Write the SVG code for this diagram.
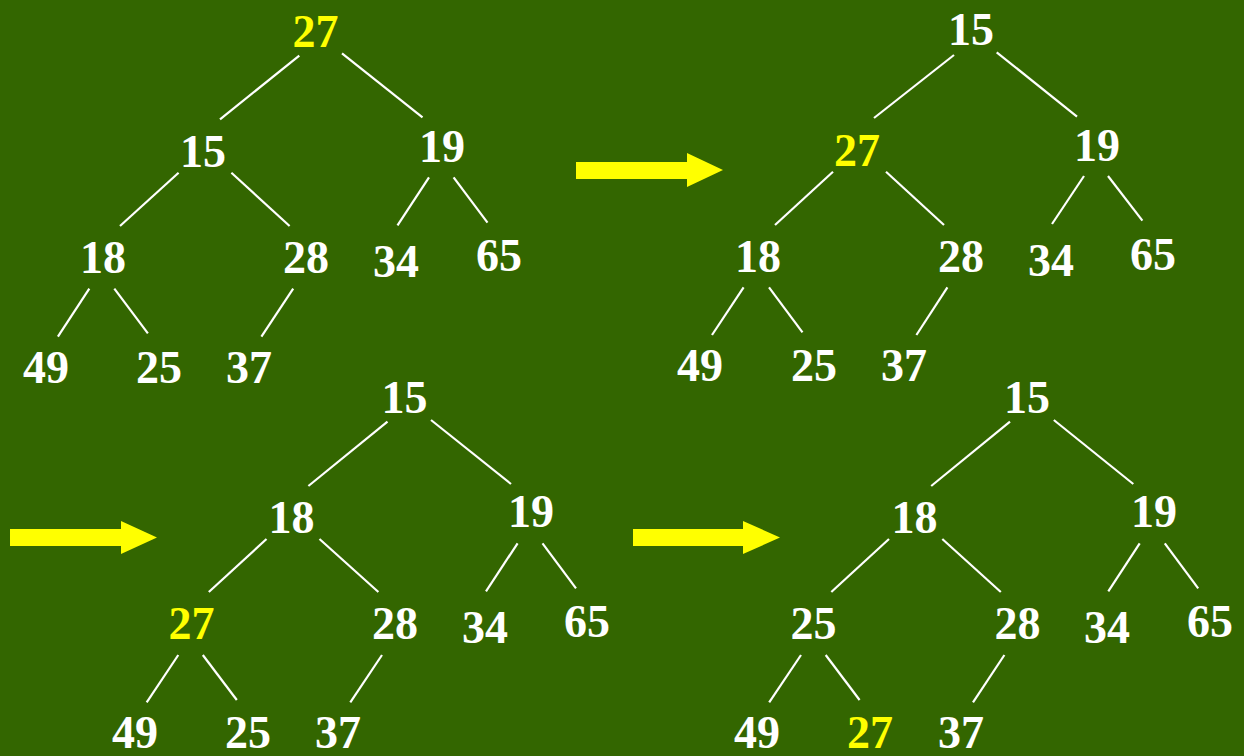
<svg xmlns="http://www.w3.org/2000/svg" width="1244" height="756" viewBox="0 0 1244 756">
<style>
text{font-family:"Liberation Serif","Times New Roman",serif;font-weight:bold;font-size:46px;text-anchor:middle;fill:#ffffff}
text.hl{fill:#ffff00}
#connectors line{stroke:#ffffff;stroke-width:2.2}
.arrow{fill:#ffff00}
</style>
<rect width="1244" height="756" fill="#336600"/>
<g id="connectors">
<line x1="299.3" y1="55.7" x2="220" y2="119.3"/>
<line x1="342" y1="53.3" x2="422.5" y2="117.3"/>
<line x1="178.6" y1="172.7" x2="120" y2="226"/>
<line x1="231.4" y1="172.7" x2="289.6" y2="226"/>
<line x1="429" y1="177.3" x2="397.5" y2="225.3"/>
<line x1="453.6" y1="177.3" x2="487.5" y2="222.7"/>
<line x1="89.3" y1="288.7" x2="57.9" y2="336.7"/>
<line x1="114.3" y1="288.7" x2="147.9" y2="333.3"/>
<line x1="293.2" y1="288.7" x2="261.4" y2="336.7"/>

<line x1="954" y1="55" x2="874" y2="118"/>
<line x1="996.7" y1="52.3" x2="1077" y2="116.7"/>
<line x1="833" y1="171.7" x2="775" y2="225"/>
<line x1="886" y1="171.7" x2="944" y2="225"/>
<line x1="1084" y1="176" x2="1052" y2="224"/>
<line x1="1108" y1="176" x2="1142.4" y2="220.7"/>
<line x1="743.6" y1="287.3" x2="712" y2="335"/>
<line x1="769" y1="287.3" x2="802.5" y2="332.3"/>
<line x1="947.4" y1="287.3" x2="916.4" y2="335"/>

<line x1="387.5" y1="421.7" x2="308.4" y2="486"/>
<line x1="431" y1="420" x2="511" y2="484"/>
<line x1="266.5" y1="539" x2="208.8" y2="592"/>
<line x1="319.5" y1="539" x2="378.4" y2="592"/>
<line x1="517.6" y1="543.3" x2="486" y2="591.3"/>
<line x1="542.5" y1="543.3" x2="576" y2="588.3"/>
<line x1="178.3" y1="655" x2="146.7" y2="702.3"/>
<line x1="202.8" y1="655" x2="236.8" y2="700"/>
<line x1="382" y1="655" x2="350.3" y2="702.3"/>

<line x1="1010" y1="421.7" x2="931.2" y2="486"/>
<line x1="1053.8" y1="420" x2="1133.3" y2="484"/>
<line x1="889" y1="539" x2="831.3" y2="592"/>
<line x1="942.3" y1="539" x2="1000.8" y2="592"/>
<line x1="1139.7" y1="543.3" x2="1108.3" y2="591.3"/>
<line x1="1164.8" y1="543.3" x2="1198.2" y2="588.3"/>
<line x1="801" y1="655" x2="769.2" y2="702.3"/>
<line x1="825.7" y1="655" x2="859.6" y2="700"/>
<line x1="1004.4" y1="655" x2="973" y2="702.3"/>
</g>
<g id="arrows">
<polygon class="arrow" points="576,162 687,162 687,153 723,170 687,187 687,179 576,179"/>
<polygon class="arrow" points="10,529 121,529 121,521 157,537.5 121,554 121,546 10,546"/>
<polygon class="arrow" points="633,529 743,529 743,521 780,537.5 743,554 743,546 633,546"/>
</g>
<g id="tree1">
<g id="t1-27"><text class="hl" x="315.5" y="47">27</text></g>
<g id="t1-15"><text x="203" y="167">15</text></g>
<g id="t1-19"><text x="442" y="162">19</text></g>
<g id="t1-18"><text x="103" y="273">18</text></g>
<g id="t1-28"><text x="306" y="273">28</text></g>
<g id="t1-34"><text x="396" y="277">34</text></g>
<g id="t1-65"><text x="499" y="271">65</text></g>
<g id="t1-49"><text x="46" y="383">49</text></g>
<g id="t1-25"><text x="159" y="383">25</text></g>
<g id="t1-37"><text x="249" y="383">37</text></g>
</g>
<g id="tree2">
<g id="t2-15"><text x="971" y="45">15</text></g>
<g id="t2-27"><text class="hl" x="857" y="166">27</text></g>
<g id="t2-19"><text x="1097" y="161">19</text></g>
<g id="t2-18"><text x="758" y="272">18</text></g>
<g id="t2-28"><text x="961" y="272">28</text></g>
<g id="t2-34"><text x="1051" y="276">34</text></g>
<g id="t2-65"><text x="1153" y="270">65</text></g>
<g id="t2-49"><text x="700" y="381">49</text></g>
<g id="t2-25"><text x="814" y="381">25</text></g>
<g id="t2-37"><text x="904" y="381">37</text></g>
</g>
<g id="tree3">
<g id="t3-15"><text x="404.5" y="412.7">15</text></g>
<g id="t3-18"><text x="291.6" y="533">18</text></g>
<g id="t3-19"><text x="531" y="527">19</text></g>
<g id="t3-27"><text class="hl" x="191.4" y="639">27</text></g>
<g id="t3-28"><text x="395" y="639">28</text></g>
<g id="t3-34"><text x="485" y="643">34</text></g>
<g id="t3-65"><text x="587" y="637">65</text></g>
<g id="t3-49"><text x="135" y="748">49</text></g>
<g id="t3-25"><text x="248" y="748">25</text></g>
<g id="t3-37"><text x="338" y="748">37</text></g>
</g>
<g id="tree4">
<g id="t4-15"><text x="1027" y="412.7">15</text></g>
<g id="t4-18"><text x="914.5" y="533">18</text></g>
<g id="t4-19"><text x="1154" y="527">19</text></g>
<g id="t4-25"><text x="813.5" y="639">25</text></g>
<g id="t4-28"><text x="1017.5" y="639">28</text></g>
<g id="t4-34"><text x="1107" y="643">34</text></g>
<g id="t4-65"><text x="1210" y="637">65</text></g>
<g id="t4-49"><text x="757" y="748">49</text></g>
<g id="t4-27"><text class="hl" x="870" y="748">27</text></g>
<g id="t4-37"><text x="961" y="748">37</text></g>
</g>
</svg>
